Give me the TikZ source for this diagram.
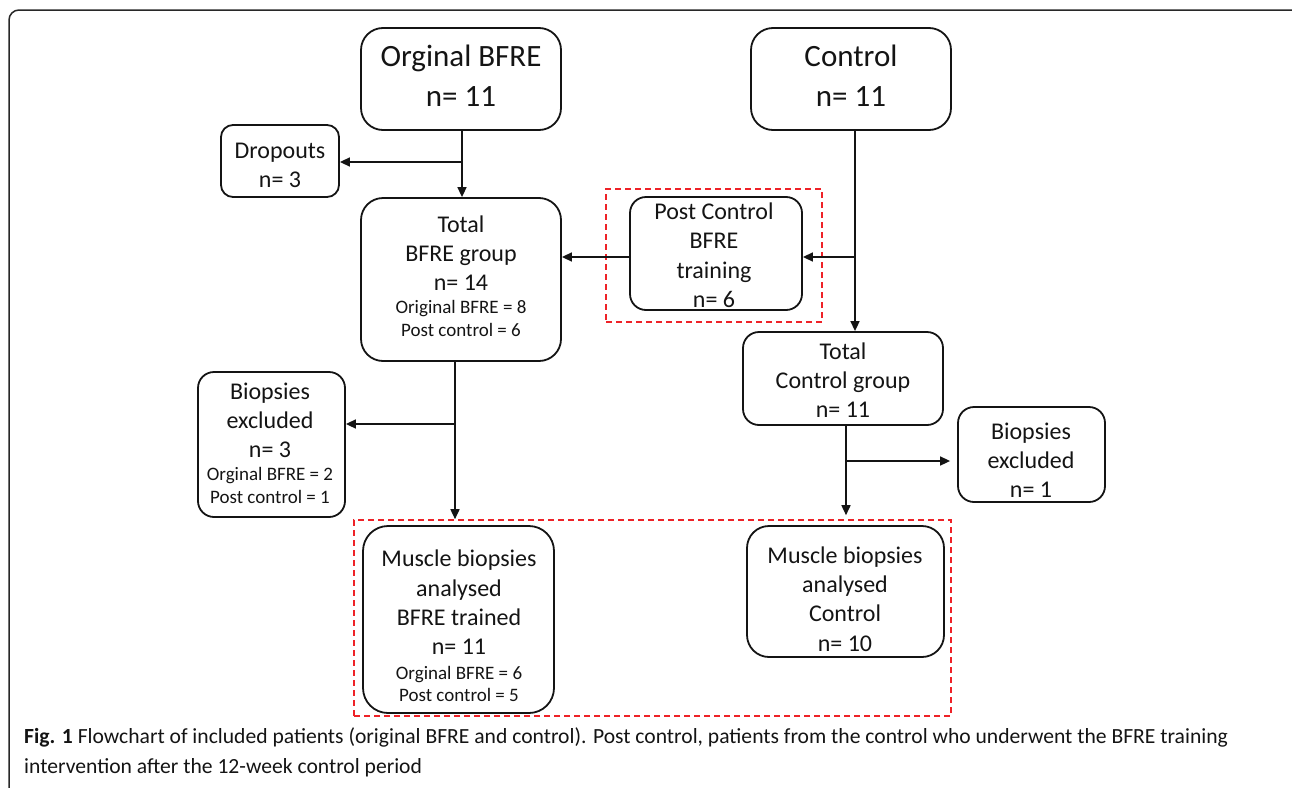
\documentclass[tikz,border=0pt]{standalone}
\usepackage{fontspec}
\setmainfont{Carlito}
\usetikzlibrary{arrows.meta}
\definecolor{redd}{RGB}{238,34,40}
\definecolor{ink}{RGB}{20,20,20}
\definecolor{framec}{RGB}{40,40,40}
\newcommand\fbig{\fontsize{31}{40}\selectfont}
\newcommand\fmed{\fontsize{24}{29.3}\selectfont}
\newcommand\fsm{\fontsize{19}{23}\selectfont}
\begin{document}
\begin{tikzpicture}[x=1pt,y=-1pt,
  box/.style={draw=ink, line width=1.8pt, rounded corners=#1, inner sep=0pt},
  box/.default=18pt,
  txt/.style={align=center, inner sep=0pt, text=ink},
  arr/.style={draw=ink, line width=1.6pt, -{Triangle[length=10pt,width=9pt]}},
  dashbox/.style={draw=redd, line width=1.6pt, dash pattern=on 6pt off 4pt, inner sep=0pt},
  captxt/.style={anchor=base west, inner sep=0pt, text=ink, font=\fontsize{21.6}{30}\selectfont}]
\useasboundingbox (0,0) rectangle (1292,787);
\begin{scope}
\clip (0,0) rectangle (1292,787);
\draw[framec, line width=1.5pt, rounded corners=10pt] (9,10) rectangle (1330,830);
\end{scope}

% red dashed groups
\node[dashbox, minimum width=216pt, minimum height=133pt] (pcred) at (714,255.5) {};
\node[dashbox, minimum width=597pt, minimum height=196pt] (bigred) at (652.5,618) {};

% boxes
\node[box=22pt, minimum width=200pt, minimum height=102pt] (obfre) at (461,79) {};
\node[box=22pt, minimum width=200pt, minimum height=102pt] (ctrl) at (851,79) {};
\node[box=12pt, minimum width=118pt, minimum height=72pt] (drop) at (280,161) {};
\node[box=22pt, minimum width=200pt, minimum height=163pt] (tbfre) at (461,279.5) {};
\node[box=16pt, minimum width=172pt, minimum height=113pt] (pc) at (716,253.5) {};
\node[box=16pt, minimum width=200pt, minimum height=93pt] (tctrl) at (843,378.5) {};
\node[box=16pt, minimum width=147pt, minimum height=145pt] (lbio) at (271.5,444.5) {};
\node[box=16pt, minimum width=147pt, minimum height=95pt] (rbio) at (1031.5,454.5) {};
\node[box=25pt, minimum width=191pt, minimum height=187pt] (mbfre) at (458.5,619.5) {};
\node[box=22pt, minimum width=197pt, minimum height=131pt] (mctrl) at (845.5,591.5) {};

% texts
\node[txt, font=\fbig] (obfre-t) at (461,76) {Orginal BFRE\\n= 11};
\node[txt, font=\fbig] (ctrl-t) at (851,76) {Control\\n= 11};
\node[txt, font=\fmed] (drop-t) at (280,165.7) {Dropouts\\[-0.3pt]n= 3};
\node[txt, font=\fmed] (tbfre-t) at (461,276) {Total\\BFRE group\\n= 14\\[-6.2pt]{\fsm Original BFRE = 8}\\[-6.5pt]{\fsm Post control = 6}};
\node[txt, font=\fmed] (pc-t) at (714,255.2) {Post Control\\BFRE\\training\\n= 6};
\node[txt, font=\fmed] (tctrl-t) at (843,380.2) {Total\\Control group\\n= 11};
\node[txt, font=\fmed] (lbio-t) at (270,443) {Biopsies\\excluded\\n= 3\\[-6.6pt]{\fsm Orginal BFRE = 2}\\[-6.3pt]{\fsm Post control = 1}};
\node[txt, font=\fmed] (rbio-t) at (1031,460.4) {Biopsies\\excluded\\n= 1};
\node[txt, font=\fmed] (mbfre-t) at (459,626) {Muscle biopsies\\analysed\\BFRE trained\\n= 11\\[-5pt]{\fsm Orginal BFRE = 6}\\[-6.8pt]{\fsm Post control = 5}};
\node[txt, font=\fmed] (mctrl-t) at (845,598.8) {Muscle biopsies\\analysed\\Control\\n= 10};

% junction coordinates
\coordinate (v1) at (462,0);
\coordinate (v2) at (855,0);
\coordinate (v3) at (455,0);
\coordinate (v4) at (846,0);
\coordinate (j1) at (462,162);
\coordinate (j2) at (855,257);
\coordinate (j3) at (455,424);
\coordinate (j4) at (846,461);

% connectors
\draw[arr] (obfre.south -| v1) -- (tbfre.north -| v1);
\draw[arr] (j1) -- (drop.east |- j1);
\draw[arr] (ctrl.south -| v2) -- (tctrl.north -| v2);
\draw[arr] (j2) -- (pc.east |- j2);
\draw[arr] (pc.west |- j2) -- (tbfre.east |- j2);
\draw[arr] (tbfre.south -| v3) -- (bigred.north -| v3);
\draw[arr] (j3) -- (lbio.east |- j3);
\draw[arr, shorten >=4pt] (tctrl.south -| v4) -- (bigred.north -| v4);
\draw[arr, shorten >=7pt] (j4) -- (rbio.west |- j4);

% caption
\node[captxt] (cap1) at (24,743) {\textbf{Fig. 1} Flowchart of included patients (original BFRE and control). Post control, patients from the control who underwent the BFRE training};
\node[captxt] (cap2) at (24,773) {intervention after the 12-week control period};
\end{tikzpicture}
\end{document}
